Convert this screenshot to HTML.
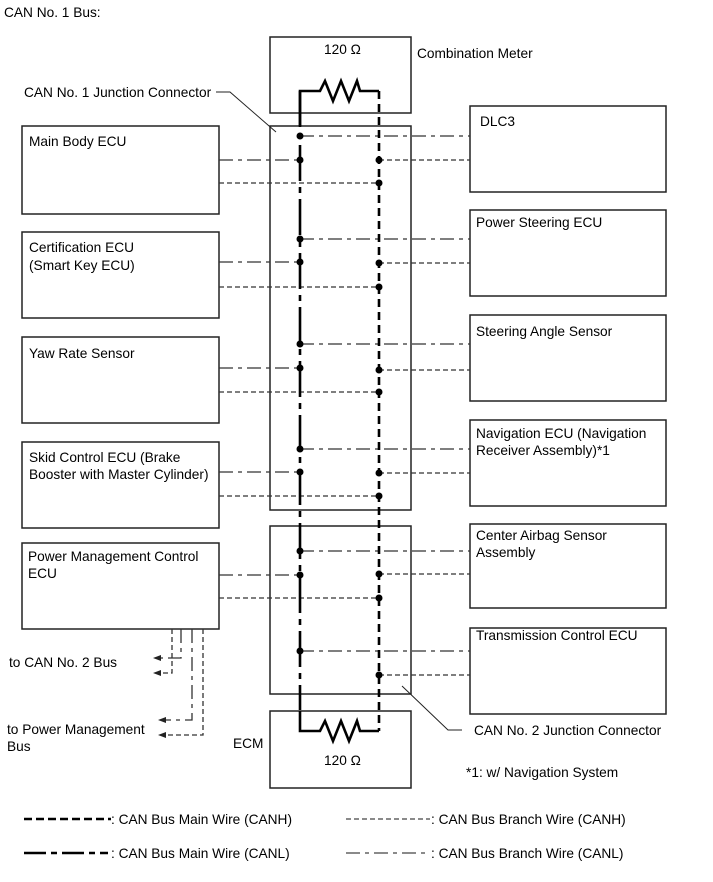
<!DOCTYPE html>
<html><head><meta charset="utf-8"><style>
html,body{margin:0;padding:0;background:#fff;}
svg{display:block;}
text{font-family:"Liberation Sans",Arial,sans-serif;font-size:13.7px;fill:#000;}
</style></head><body>
<svg width="713" height="882" viewBox="0 0 713 882" xmlns="http://www.w3.org/2000/svg">
<g fill="none" stroke="#222" stroke-width="1.5">
<rect x="270" y="37" width="141" height="76"/>
<rect x="270" y="126" width="141" height="384"/>
<rect x="270" y="526" width="141" height="168"/>
<rect x="270" y="711" width="141" height="77"/>
<rect x="22" y="126" width="197" height="88"/>
<rect x="22" y="232" width="197" height="86"/>
<rect x="22" y="337" width="197" height="86"/>
<rect x="22" y="442" width="197" height="86"/>
<rect x="22" y="543" width="197" height="86"/>
<rect x="470" y="106" width="196" height="86"/>
<rect x="470" y="210" width="196" height="86"/>
<rect x="470" y="315" width="196" height="86"/>
<rect x="470" y="420" width="196" height="86"/>
<rect x="470" y="524" width="196" height="84"/>
<rect x="470" y="628" width="196" height="86"/>
</g>
<g fill="none" stroke="#222" stroke-width="1">
<polyline points="216,92 230,92 276,132"/>
<polyline points="402,686 448,730 462,730"/>
</g>
<g stroke="#333" stroke-width="1.3" stroke-dasharray="14,5,4,5" fill="none">
<line x1="300" y1="136" x2="470" y2="136"/>
<line x1="300" y1="239" x2="470" y2="239"/>
<line x1="300" y1="344" x2="470" y2="344"/>
<line x1="300" y1="449" x2="470" y2="449"/>
<line x1="300" y1="551" x2="470" y2="551"/>
<line x1="300" y1="651" x2="470" y2="651"/>
<line x1="219" y1="160" x2="300" y2="160"/>
<line x1="219" y1="262" x2="300" y2="262"/>
<line x1="219" y1="368" x2="300" y2="368"/>
<line x1="219" y1="472" x2="300" y2="472"/>
<line x1="219" y1="575" x2="300" y2="575"/>
<polyline points="181,629 181,658 160,658"/>
<polyline points="192,629 192,720 165,720"/>
</g>
<g stroke="#333" stroke-width="1.3" stroke-dasharray="5,3" fill="none">
<line x1="379" y1="160" x2="470" y2="160"/>
<line x1="379" y1="263" x2="470" y2="263"/>
<line x1="379" y1="370" x2="470" y2="370"/>
<line x1="379" y1="473" x2="470" y2="473"/>
<line x1="379" y1="574" x2="470" y2="574"/>
<line x1="379" y1="675" x2="470" y2="675"/>
<line x1="219" y1="183" x2="379" y2="183"/>
<line x1="219" y1="287" x2="379" y2="287"/>
<line x1="219" y1="392" x2="379" y2="392"/>
<line x1="219" y1="496" x2="379" y2="496"/>
<line x1="219" y1="598" x2="379" y2="598"/>
<polyline points="172,629 172,673 160,673"/>
<polyline points="203,629 203,735 165,735"/>
</g>
<g fill="#222">
<polygon points="153,658 161,655 161,661"/>
<polygon points="153,673 161,670 161,676"/>
<polygon points="158,720 166,717 166,723"/>
<polygon points="158,735 166,732 166,738"/>
</g>
<g fill="none" stroke="#000" stroke-width="2.6">
<polyline points="300,126 300,91 320,91 325,81 333,101 341,81 349,101 357,81 360,91 379,91"/>
<line x1="300" y1="91" x2="300" y2="710" stroke-dasharray="36,6,6,6"/>
<line x1="379" y1="91" x2="379" y2="731" stroke-dasharray="8,5"/>
<polyline points="300,711 300,731 320,731 325,721 333,741 341,721 349,741 357,721 360,731 379,731"/>
</g>
<g fill="#000">
<circle cx="300" cy="136" r="3.5"/><circle cx="300" cy="160" r="3.5"/>
<circle cx="300" cy="239" r="3.5"/><circle cx="300" cy="262" r="3.5"/>
<circle cx="300" cy="344" r="3.5"/><circle cx="300" cy="368" r="3.5"/>
<circle cx="300" cy="449" r="3.5"/><circle cx="300" cy="472" r="3.5"/>
<circle cx="300" cy="551" r="3.5"/><circle cx="300" cy="575" r="3.5"/>
<circle cx="300" cy="651" r="3.5"/>
<circle cx="379" cy="160" r="3.5"/><circle cx="379" cy="183" r="3.5"/>
<circle cx="379" cy="263" r="3.5"/><circle cx="379" cy="287" r="3.5"/>
<circle cx="379" cy="370" r="3.5"/><circle cx="379" cy="392" r="3.5"/>
<circle cx="379" cy="473" r="3.5"/><circle cx="379" cy="496" r="3.5"/>
<circle cx="379" cy="574" r="3.5"/><circle cx="379" cy="598" r="3.5"/>
<circle cx="379" cy="675" r="3.5"/>
</g>
<text x="4" y="17">CAN No. 1 Bus:</text>
<text x="324" y="54">120 Ω</text>
<text x="417" y="58">Combination Meter</text>
<text x="24" y="97">CAN No. 1 Junction Connector</text>
<text x="29" y="146">Main Body ECU</text>
<text x="29" y="252">Certification ECU</text>
<text x="29" y="270">(Smart Key ECU)</text>
<text x="29" y="358">Yaw Rate Sensor</text>
<text x="29" y="462">Skid Control ECU (Brake</text>
<text x="29" y="479">Booster with Master Cylinder)</text>
<text x="28" y="561">Power Management Control</text>
<text x="28" y="578">ECU</text>
<text x="9" y="667">to CAN No. 2 Bus</text>
<text x="7" y="734">to Power Management</text>
<text x="7" y="751">Bus</text>
<text x="233" y="748">ECM</text>
<text x="324" y="765">120 Ω</text>
<text x="480" y="126">DLC3</text>
<text x="476" y="227">Power Steering ECU</text>
<text x="476" y="336">Steering Angle Sensor</text>
<text x="476" y="438">Navigation ECU (Navigation</text>
<text x="476" y="455">Receiver Assembly)*1</text>
<text x="476" y="540">Center Airbag Sensor</text>
<text x="476" y="557">Assembly</text>
<text x="476" y="640">Transmission Control ECU</text>
<text x="474" y="735">CAN No. 2 Junction Connector</text>
<text x="466" y="777">*1: w/ Navigation System</text>
<line x1="24" y1="819" x2="111" y2="819" stroke="#000" stroke-width="2.6" stroke-dasharray="8,4"/>
<text x="111" y="824">: CAN Bus Main Wire (CANH)</text>
<line x1="24" y1="853" x2="108" y2="853" stroke="#000" stroke-width="2.6" stroke-dasharray="22,5,6,5"/>
<text x="111" y="858">: CAN Bus Main Wire (CANL)</text>
<line x1="346" y1="819" x2="430" y2="819" stroke="#444" stroke-width="1.2" stroke-dasharray="5,3"/>
<text x="431" y="824">: CAN Bus Branch Wire (CANH)</text>
<line x1="346" y1="853" x2="430" y2="853" stroke="#444" stroke-width="1.2" stroke-dasharray="14,5,4,5"/>
<text x="431" y="858">: CAN Bus Branch Wire (CANL)</text>
</svg>
</body></html>
